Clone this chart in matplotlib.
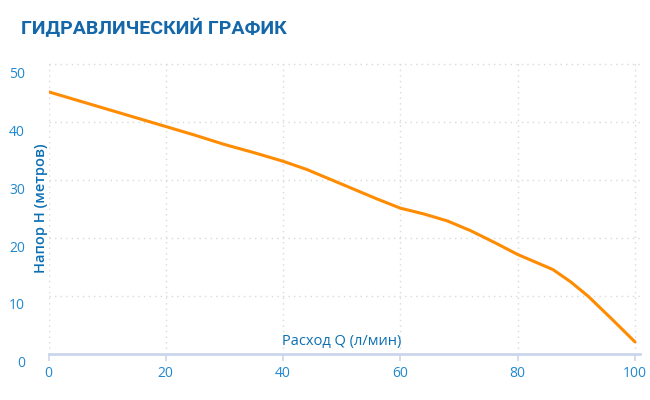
import matplotlib
matplotlib.use("Agg")
import matplotlib.pyplot as plt
import matplotlib.transforms as mtransforms

# Data
flow_q = [0, 5, 10, 15, 20, 25, 30, 35, 40, 44, 48, 52, 56, 60, 64, 68,
          72, 76, 80, 83, 86, 89, 92, 96, 100]
head_h = [45.2, 43.7, 42.2, 40.7, 39.2, 37.7, 36.1, 34.7, 33.2, 31.8, 30.1, 28.4, 26.7, 25.1, 24.1, 22.9,
          21.2, 19.2, 17.1, 15.8, 14.5, 12.4, 9.9, 6.0, 2.0]
x_ticks = [0, 20, 40, 60, 80, 100]
y_ticks = [0, 10, 20, 30, 40, 50]

title_text = "ГИДРАВЛИЧЕСКИЙ ГРАФИК"
x_title = "Расход Q (л/мин)"
y_title = "Напор Н (метров)"

TITLE_C = "#1467a9"
LABEL_C = "#2088cf"
AXTITLE_C = "#0c6fb4"
LINE_C = "#ff8c00"
GRID_C = "#d9d9d9"
AXIS_C = "#ccd6eb"

fig = plt.figure(figsize=(6.5, 4.0), dpi=100)
fig.patch.set_facecolor("white")
W, H = 650, 400
x0, x1 = 48.5, 640
y0, y1 = 353.5, 60
ax = fig.add_axes([x0 / W, 1 - y0 / H, (x1 - x0) / W, (y0 - y1) / H])

xmax = 100 * (x1 - x0) / (635 - x0)
ymax = 50 * (y0 - y1) / (y0 - 64)
ax.set_xlim(0, xmax)
ax.set_ylim(0, ymax)

ax.plot(flow_q, head_h, color=LINE_C, lw=2.2, solid_capstyle="round",
        solid_joinstyle="round", zorder=5)

for s in ["top", "right", "left"]:
    ax.spines[s].set_visible(False)
ax.spines["bottom"].set_color(AXIS_C)
ax.spines["bottom"].set_linewidth(2.0)
ax.spines["bottom"].set_zorder(3)

ax.set_xticks(x_ticks)
ax.set_yticks(y_ticks)
ax.grid(True, color=GRID_C, linestyle=(0, (1, 3)), linewidth=1.0)
ax.set_axisbelow(True)

ax.tick_params(axis="x", colors=AXIS_C, length=5, width=1.2, pad=4, labelcolor=LABEL_C, labelsize=10)
ax.tick_params(axis="y", length=0, pad=17, labelcolor=LABEL_C, labelsize=10)
for lab in ax.get_xticklabels() + ax.get_yticklabels():
    lab.set_fontfamily("Open Sans")
off = mtransforms.ScaledTranslation(0, -6 / 72, fig.dpi_scale_trans)
for lab in ax.get_yticklabels():
    lab.set_transform(lab.get_transform() + off)

xt = ax.text(50, 0, x_title, ha="center", va="bottom",
             fontsize=10.5, color=AXTITLE_C, family="Open Sans")
xt.set_transform(ax.transData + mtransforms.ScaledTranslation(0, 3 / 72, fig.dpi_scale_trans))

fig.text(41 / W, 1 - 208 / H, y_title, rotation=90, ha="center", va="center",
         fontsize=10.5, color=AXTITLE_C, family="Open Sans", fontweight="semibold")

fig.text(21 / W, 1 - 28 / H, title_text, ha="left", va="center",
         fontsize=14, color=TITLE_C, family="Roboto", fontweight="bold")

fig.savefig("out.png", dpi=100, facecolor="white")
